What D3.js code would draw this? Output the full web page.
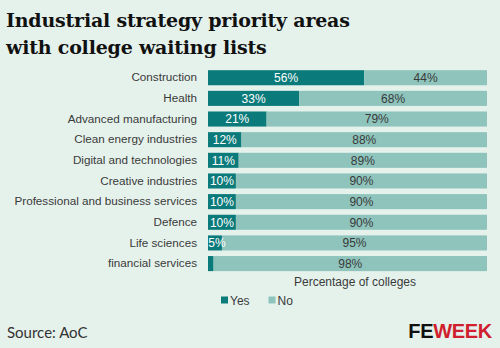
<!DOCTYPE html>
<html>
<head>
<meta charset="utf-8">
<script src="https://cdn.jsdelivr.net/npm/d3@7"></script>
<style>
  body { margin: 0; background: #e5f2ec; }
  svg { display: block; }
</style>
</head>
<body>
<div id="chart"></div>
<script>
// data
var categories = ["Construction", "Health", "Advanced manufacturing", "Clean energy industries",
  "Digital and technologies", "Creative industries", "Professional and business services",
  "Defence", "Life sciences", "financial services"]
var yesValues = [56, 33, 21, 12, 11, 10, 10, 10, 5, 2]
var noValues = [44, 68, 79, 88, 89, 90, 90, 90, 95, 98]
var yesLabels = ["56%", "33%", "21%", "12%", "11%", "10%", "10%", "10%", "5%", ""]
var noLabels = ["44%", "68%", "79%", "88%", "89%", "90%", "90%", "90%", "95%", "98%"]
var seriesNames = ["Yes", "No"]

var W = 500, H = 348
var dark = "#0b7a7a", light = "#8ec4bc"

var svg = d3.select("#chart").append("svg")
  .attr("width", W)
  .attr("height", H)

svg.append("rect").attr("width", W).attr("height", H).attr("fill", "#e5f2ec")

// title
var title = svg.append("text")
  .attr("font-family", "DejaVu Serif, serif")
  .attr("font-weight", "bold")
  .attr("font-size", 19)
  .attr("letter-spacing", -0.2)
  .attr("fill", "#111")
title.append("tspan").attr("x", 6).attr("y", 27).text("Industrial strategy priority areas")
title.append("tspan").attr("x", 6).attr("y", 53.5).text("with college waiting lists")

var rows = categories.map(function(c, i){
  return {cat: c, Yes: yesValues[i], No: noValues[i], yl: yesLabels[i], nl: noLabels[i]}
})

var stack = d3.stack().keys(seriesNames).offset(d3.stackOffsetExpand)
var series = stack(rows)

var x = d3.scaleLinear().domain([0, 1]).range([208, 487])
var y = d3.scaleBand().domain(categories).range([67.5, 273.8]).paddingInner(0.27).paddingOuter(0.13)
var color = d3.scaleOrdinal().domain(seriesNames).range([dark, light])

var g = svg.append("g")

g.selectAll("g.series")
  .data(series)
  .enter()
  .append("g")
  .attr("class", "series")
  .attr("fill", function(d){ return color(d.key) })
  .selectAll("rect")
  .data(function(d){ return d })
  .enter()
  .append("rect")
  .attr("x", function(d){ return x(d[0]) })
  .attr("y", function(d){ return y(d.data.cat) })
  .attr("width", function(d){ return x(d[1]) - x(d[0]) })
  .attr("height", y.bandwidth())

// value labels
g.selectAll("text.yes")
  .data(series[0])
  .enter()
  .append("text")
  .attr("class", "yes")
  .attr("x", function(d){ return Math.max((x(d[0]) + x(d[1])) / 2, 217) })
  .attr("y", function(d){ return y(d.data.cat) + y.bandwidth() / 2 + 4.3 })
  .attr("text-anchor", "middle")
  .attr("font-family", "Liberation Sans, Arial, sans-serif")
  .attr("font-size", 12)
  .attr("fill", "#fff")
  .text(function(d){ return d.data.yl })

g.selectAll("text.no")
  .data(series[1])
  .enter()
  .append("text")
  .attr("class", "no")
  .attr("x", function(d){ return (x(d[0]) + x(d[1])) / 2 })
  .attr("y", function(d){ return y(d.data.cat) + y.bandwidth() / 2 + 4.3 })
  .attr("text-anchor", "middle")
  .attr("font-family", "Liberation Sans, Arial, sans-serif")
  .attr("font-size", 12)
  .attr("fill", "#3a3a3a")
  .text(function(d){ return d.data.nl })

// category axis
var yAxis = svg.append("g")
  .attr("transform", "translate(202,0)")
  .call(d3.axisLeft(y).tickSize(0).tickPadding(5))
yAxis.select(".domain").remove()
yAxis.selectAll("text")
  .attr("font-family", "Liberation Sans, Arial, sans-serif")
  .attr("font-size", 11.7)
  .attr("fill", "#3a3a3a")

svg.append("text")
  .attr("x", 355)
  .attr("y", 286)
  .attr("text-anchor", "middle")
  .attr("font-family", "Liberation Sans, Arial, sans-serif")
  .attr("font-size", 12)
  .attr("fill", "#3a3a3a")
  .text("Percentage of colleges")

// legend
var legend = svg.append("g")
  .selectAll("g")
  .data(seriesNames)
  .enter()
  .append("g")
  .attr("transform", function(d, i){ return "translate(" + (221 + i * 47.5) + ",300)" })
legend.append("rect")
  .attr("x", 0).attr("y", -3.5)
  .attr("width", 7).attr("height", 7)
  .attr("fill", function(d){ return color(d) })
legend.append("text")
  .attr("x", 9)
  .attr("y", 4.5)
  .attr("font-family", "Liberation Sans, Arial, sans-serif")
  .attr("font-size", 12)
  .attr("fill", "#3a3a3a")
  .text(function(d){ return d })

// footer
svg.append("text")
  .attr("x", 7)
  .attr("y", 338)
  .attr("font-family", "Lato, sans-serif")
  .attr("font-size", 15)
  .attr("fill", "#333")
  .text("Source: AoC")

var logo = svg.append("text")
  .attr("x", 492)
  .attr("y", 337.5)
  .attr("text-anchor", "end")
  .attr("font-family", "Liberation Sans, Arial, sans-serif")
  .attr("font-weight", "bold")
  .attr("font-size", 20)
  .attr("letter-spacing", -0.3)
logo.append("tspan").attr("fill", "#111").text("FE")
logo.append("tspan").attr("fill", "#d0202e").text("WEEK")
</script>
</body>
</html>
